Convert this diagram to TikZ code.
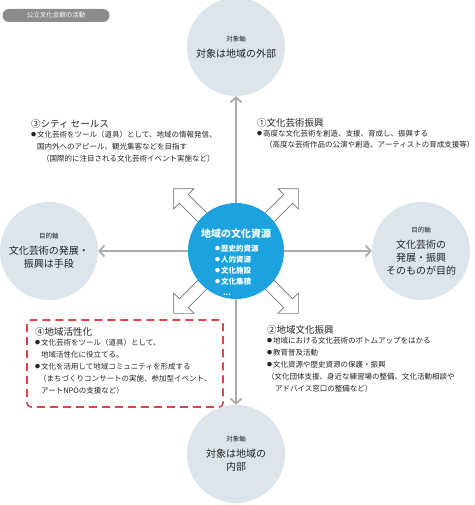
\documentclass[tikz,border=0pt]{standalone}
\usepackage{fontspec}
\setmainfont{Noto Sans CJK JP}
\usetikzlibrary{positioning,shapes.arrows,arrows.meta}

\definecolor{axisgray}{HTML}{ABABAB}
\definecolor{circlefill}{HTML}{DCE5EC}
\definecolor{resblue}{HTML}{1CA2DF}
\definecolor{dashred}{HTML}{E4414B}
\definecolor{pillgray}{HTML}{8C8C8C}
\definecolor{inkgray}{HTML}{222222}

\newcommand{\bul}{\makebox[6pt][l]{\raisebox{0.8pt}{\fontsize{5}{5}\selectfont ●}}}
\newcommand{\axlabel}[1]{{\fontsize{6.5}{8}\selectfont #1}\\[3pt]}

\tikzset{
  pill/.style={fill=pillgray, text=white, rounded corners=6.5pt, minimum width=107pt,
    minimum height=13pt, inner sep=0pt, font=\fontsize{6.5}{8}\selectfont},
  axiscircle/.style={circle, fill=circlefill, minimum size=98pt, inner sep=0pt,
    align=center, text=inkgray, font=\fontsize{10}{13}\selectfont},
  axisline/.style={draw=axisgray, line width=1.8pt,
    {Straight Barb[length=5pt,width=11pt]}-{Straight Barb[length=5pt,width=11pt]}},
  outarrow/.style={single arrow, draw=gray!90!black, fill=white, line width=0.7pt,
    minimum height=46pt, inner sep=6pt, single arrow head extend=8pt,
    single arrow head indent=0pt},
  rescircle/.style={circle, fill=resblue, minimum size=96pt, inner sep=0pt},
  restext/.style={text=white, align=left, inner sep=0pt, font=\bfseries\fontsize{7.5}{11}\selectfont},
  blocktitle/.style={anchor=west, inner sep=0pt, text=inkgray, font=\fontsize{9.5}{11}\selectfont},
  blockbody/.style={inner sep=0pt, align=left, text=inkgray, font=\fontsize{7.5}{12}\selectfont},
  dashbox/.style={draw=dashred, line width=1.6pt, dash pattern=on 8pt off 5pt, rounded corners=4pt}
}

\begin{document}
\begin{tikzpicture}[x=1pt,y=-1pt]
\useasboundingbox (0,0) rectangle (474,505);

% header
\node[pill] (hdr) at (56,15.5) {公立文化会館の活動};

% axis circles
\node[axiscircle] (ext) at (236,47) {\axlabel{対象軸}対象は地域の外部};
\node[axiscircle] (int) at (236,454) {\axlabel{対象軸}対象は地域の\\内部};
\node[axiscircle] (means) at (49,251) {\axlabel{目的軸}文化芸術の発展・\\振興は手段};
\node[axiscircle] (goal) at (421,251) {\axlabel{目的軸}文化芸術の\\発展・振興\\そのものが目的};

% axes
\draw[axisline] (ext) -- (int);
\draw[axisline] (means) -- (goal);

% outward arrows
\coordinate (rc) at (236,251);
\foreach \a/\nm in {45/ne,135/nw,225/sw,315/se}
  \node[outarrow, rotate=\a] (out\nm) at ([shift={(\a:62pt)}]rc) {};

% centre
\node[rescircle] (res) at (rc) {};
\node[restext] (reslist) at ([yshift=-11pt]res.center)
  {{\fontsize{10}{12}\selectfont 地域の文化資源}\\[3pt]
   \hspace*{14pt}\bul 歴史的資源\\
   \hspace*{14pt}\bul 人的資源\\
   \hspace*{14pt}\bul 文化施設\\
   \hspace*{14pt}\bul 文化集積\\
   \hspace*{22pt}...};

% (3) city sales
\node[blocktitle] (cs) at (31,124) {③シティ セールス};
\node[blockbody, below right=2pt and 0pt of cs.south west] (csbody)
  {\bul 文化芸術をツール（道具）として、地域の情報発信、\\
   \hspace*{6pt}国内外へのアピール、観光集客などを目指す\\
   \hspace*{11pt}（国際的に注目される文化芸術イベント実施など）};

% (1) promotion
\node[blocktitle] (ap) at (257,123) {①文化芸術振興};
\node[blockbody, below right=2pt and 0pt of ap.south west] (apbody)
  {\bul 高度な文化芸術を創造、支援、育成し、振興する\\[-1pt]
   \hspace*{8pt}（高度な芸術作品の公演や創造、アーティストの育成支援等）};

% (4) revitalisation
\draw[dashbox] (27,320) rectangle (223,407);
\node[blocktitle] (rv) at (35,332) {④地域活性化};
\node[blockbody, below right=2pt and 0pt of rv.south west] (rvbody)
  {\bul 文化芸術をツール（道具）として、\\
   \hspace*{6pt}地域活性化に役立てる。\\
   \bul 文化を活用して地域コミュニティを形成する\\
   \hspace*{4pt}（まちづくりコンサートの実施、参加型イベント、\\
   \hspace*{6pt}アートNPOの支援など）};

% (2) local culture
\node[blocktitle] (lc) at (267,330) {②地域文化振興};
\node[blockbody, below right=2pt and 0pt of lc.south west] (lcbody)
  {\bul 地域における文化芸術のボトムアップをはかる\\
   \bul 教育普及活動\\
   \bul 文化資源や歴史資源の保護・振興\\
   （文化団体支援、身近な練習場の整備、文化活動相談や\\
   \hspace*{8pt}アドバイス窓口の整備など）};
\end{tikzpicture}
\end{document}
